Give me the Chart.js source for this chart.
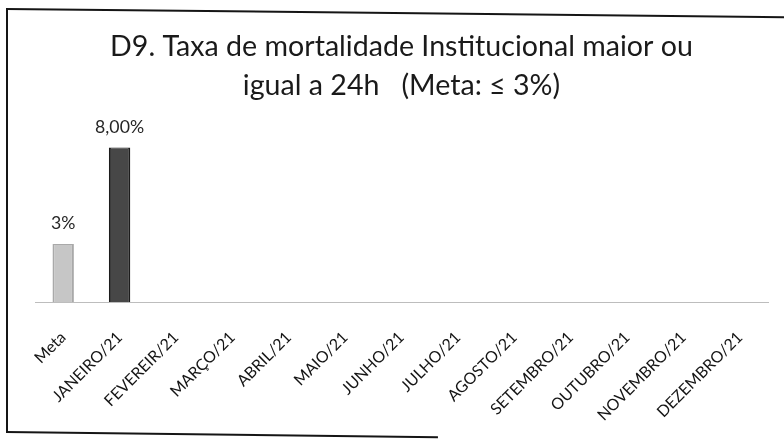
<!DOCTYPE html>
<html><head><meta charset="utf-8">
<script src="https://cdn.jsdelivr.net/npm/chart.js@4/dist/chart.umd.min.js"></script>
<style>
html,body{margin:0;padding:0;background:#fff;}
#wrap{position:relative;width:784px;height:439px;overflow:hidden;background:#fff;}
canvas{position:absolute;left:0;top:0;}
.fl{position:absolute;background:#151515;}
</style></head><body>
<div id="wrap">
<div class="fl" style="left:6px;top:8px;width:2px;height:425px"></div>
<div class="fl" style="left:6px;top:8px;width:800px;height:2px;transform:rotate(0.6deg);transform-origin:0 0"></div>
<div class="fl" style="left:6px;top:431px;width:432px;height:2px;transform:rotate(0.7deg);transform-origin:0 0"></div>
<canvas id="c" width="784" height="439"></canvas>
</div>
<script>
const categories = ['Meta','JANEIRO/21','FEVEREIR/21','MARÇO/21','ABRIL/21','MAIO/21','JUNHO/21','JULHO/21','AGOSTO/21','SETEMBRO/21','OUTUBRO/21','NOVEMBRO/21','DEZEMBRO/21'];
const values = [3, 8, null, null, null, null, null, null, null, null, null, null, null];
const valueLabels = ['3%', '8,00%', '', '', '', '', '', '', '', '', '', '', ''];
const titleLines = ['D9. Taxa de mortalidade Institucional maior ou', 'igual a 24h   (Meta: ≤ 3%)'];
const barColors = ['#c6c6c6', '#474747'];
const barBorders = ['#a9a9a9', '#1c1c1c'];

// fit font sizes to the widths seen in the reference
const mctx = document.createElement('canvas').getContext('2d');
function fitSize(text, target, base) {
  mctx.font = base + 'px Lato';
  return Math.round(base * target / mctx.measureText(text).width * 10) / 10;
}
const titleSize = fitSize(titleLines[0], 584, 28);
const tickSize = fitSize('JANEIRO/21', 91, 17);
const labelSize = fitSize('8,00%', 49, 17);

const valueLabelPlugin = {
  id: 'valueLabels',
  afterDatasetsDraw(chart) {
    const ctx = chart.ctx;
    const meta = chart.getDatasetMeta(0);
    ctx.save();
    ctx.font = labelSize + 'px Lato';
    ctx.fillStyle = '#262626';
    ctx.textAlign = 'center';
    ctx.textBaseline = 'alphabetic';
    meta.data.forEach((bar, i) => {
      if (values[i] === null || !valueLabels[i]) return;
      ctx.fillText(valueLabels[i], bar.x, bar.y - 15);
    });
    ctx.restore();
  }
};

new Chart(document.getElementById('c'), {
  type: 'bar',
  data: {
    labels: categories,
    datasets: [{
      data: values,
      backgroundColor: categories.map((c, i) => barColors[Math.min(i, 1)]),
      borderColor: categories.map((c, i) => barBorders[Math.min(i, 1)]),
      borderWidth: {left: 2, right: 2, top: 1, bottom: 0},
      borderSkipped: false,
      barPercentage: 0.38,
      categoryPercentage: 1
    }]
  },
  options: {
    responsive: false,
    devicePixelRatio: 1,
    animation: false,
    layout: {padding: {left: 35, right: 16, top: 0, bottom: 0}},
    plugins: {
      legend: {display: false},
      tooltip: {enabled: false},
      title: {
        display: true,
        text: titleLines,
        color: '#1a1a1a',
        font: {family: 'Lato', size: titleSize, weight: 'normal', lineHeight: 38.5 / titleSize},
        padding: {top: 28, bottom: 4}
      }
    },
    scales: {
      x: {
        grid: {display: false},
        border: {display: true, color: '#bdbdbd', width: 1, dash: [2, 3]},
        ticks: {
          color: '#141414',
          font: {family: 'Lato', size: tickSize},
          minRotation: 45,
          maxRotation: 45,
          autoSkip: false,
          padding: 18
        },
        afterFit(scale) { scale.height = 137; }
      },
      y: {
        display: false,
        min: 0,
        max: 10
      }
    }
  },
  plugins: [valueLabelPlugin]
});
</script>
</body></html>
